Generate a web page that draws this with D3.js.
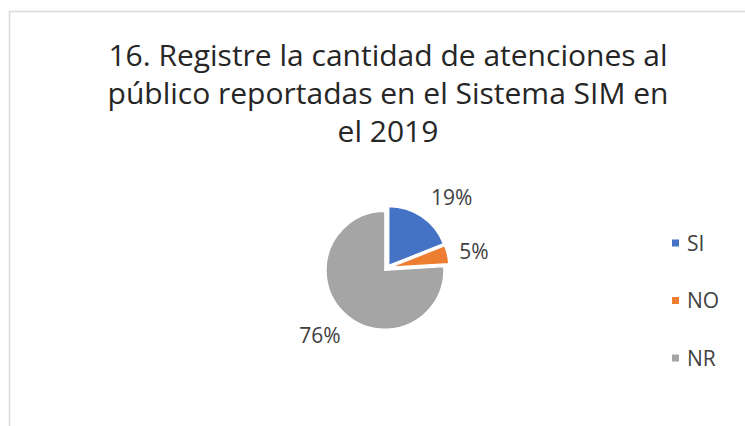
<!DOCTYPE html>
<html>
<head>
<meta charset="utf-8">
<script src="https://cdn.jsdelivr.net/npm/d3@7"></script>
<style>
  html, body { margin: 0; padding: 0; background: #fff; }
  svg { display: block; font-family: "Open Sans", Lato, sans-serif; }
</style>
</head>
<body>
<svg id="chart" width="745" height="426"></svg>
<script>
// Survey answers and their shares
const categories = ["SI", "NO", "NR"];
const shares = [19, 5, 76];
const labels = ["19%", "5%", "76%"];
const colors = ["#4472C4", "#ED7D31", "#A5A5A5"];
const titleLines = [
  "16. Registre la cantidad de atenciones al",
  "público reportadas en el Sistema SIM en",
  "el 2019"
];

const svg = d3.select("#chart");

// Chart frame (left and top edges visible)
svg.append("path")
  .attr("d", "M9.5,426 L9.5,11.5 L745,11.5")
  .attr("fill", "none")
  .attr("stroke", "#d9d9d9")
  .attr("stroke-width", 1.5);

// Title
svg.append("g")
  .selectAll("text")
  .data(titleLines)
  .join("text")
  .attr("x", 388)
  .attr("y", (d, i) => 66 + i * 38)
  .attr("text-anchor", "middle")
  .attr("font-size", 30)
  .attr("fill", "#262626")
  .text(d => d);

// Pie
const cx = 387, cy = 268, r = 59, explode = 3;
const pie = d3.pie().sort(null).value(d => d);
const arcs = pie(shares);
const arc = d3.arc().innerRadius(0).outerRadius(r);

const slices = svg.append("g").attr("transform", `translate(${cx},${cy})`);
slices.selectAll("path")
  .data(arcs)
  .join("path")
  .attr("transform", d => {
    const mid = (d.startAngle + d.endAngle) / 2;
    return `translate(${explode * Math.sin(mid)},${-explode * Math.cos(mid)})`;
  })
  .attr("d", arc)
  .attr("fill", (d, i) => colors[i])
  .attr("stroke", "#fff")
  .attr("stroke-width", 1.5);

// Data labels placed outside the slices
const labelArc = d3.arc().innerRadius(r + 26).outerRadius(r + 26);
const labelOffsets = [[17, 0], [4, 2], [-9, 5.5]];
slices.selectAll("text")
  .data(arcs)
  .join("text")
  .attr("x", (d, i) => labelArc.centroid(d)[0] + labelOffsets[i][0])
  .attr("y", (d, i) => labelArc.centroid(d)[1] + labelOffsets[i][1])
  .attr("dy", "0.36em")
  .attr("text-anchor", "middle")
  .attr("font-size", 21)
  .attr("fill", "#404040")
  .text((d, i) => labels[i]);

// Legend
const legendY = d3.scalePoint().domain(categories).range([243, 358]);
const legend = svg.append("g");
legend.selectAll("rect")
  .data(categories)
  .join("rect")
  .attr("x", 672)
  .attr("y", d => legendY(d) - 3.5)
  .attr("width", 7)
  .attr("height", 7)
  .attr("fill", (d, i) => colors[i]);
legend.selectAll("text")
  .data(categories)
  .join("text")
  .attr("x", 687)
  .attr("y", d => legendY(d))
  .attr("dy", "0.36em")
  .attr("font-size", 21)
  .attr("fill", "#404040")
  .text(d => d);
</script>
</body>
</html>
